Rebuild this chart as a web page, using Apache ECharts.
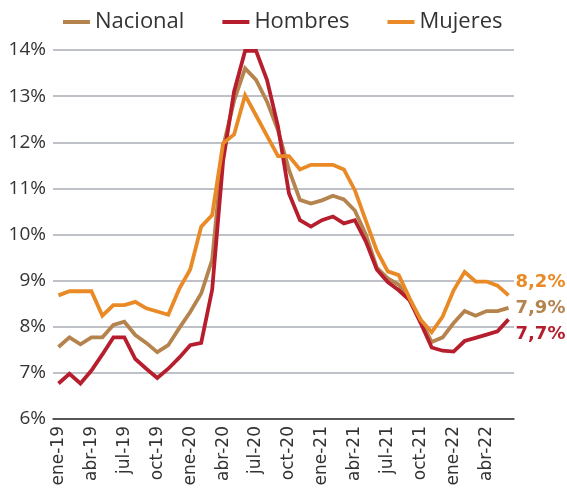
<!DOCTYPE html>
<html>
<head>
<meta charset="utf-8">
<script src="https://cdn.jsdelivr.net/npm/echarts@6/dist/echarts.min.js"></script>
<style>html,body{margin:0;padding:0;background:#fff}#c{width:567px;height:500px}</style>
</head>
<body>
<div id="c"></div>
<script>
var categories = [
  'ene-19','feb-19','mar-19','abr-19','may-19','jun-19','jul-19','ago-19','sep-19','oct-19','nov-19','dic-19',
  'ene-20','feb-20','mar-20','abr-20','may-20','jun-20','jul-20','ago-20','sep-20','oct-20','nov-20','dic-20',
  'ene-21','feb-21','mar-21','abr-21','may-21','jun-21','jul-21','ago-21','sep-21','oct-21','nov-21','dic-21',
  'ene-22','feb-22','mar-22','abr-22','may-22','jun-22'
];
var nacional = [7.56,7.77,7.62,7.77,7.77,8.04,8.11,7.82,7.65,7.45,7.60,7.97,
  8.32,8.72,9.45,11.9,12.9,13.6,13.35,12.88,12.26,11.4,10.75,10.67,
  10.74,10.84,10.76,10.52,10.0,9.28,9.05,8.91,8.57,8.15,7.67,7.77,
  8.08,8.34,8.24,8.34,8.34,8.41];
var hombres = [6.77,6.98,6.77,7.05,7.40,7.77,7.77,7.30,7.09,6.89,7.09,7.33,
  7.60,7.65,8.8,11.6,13.1,13.98,13.98,13.35,12.34,10.89,10.31,10.17,
  10.31,10.39,10.24,10.31,9.85,9.24,8.97,8.79,8.57,8.08,7.55,7.48,
  7.46,7.69,7.76,7.83,7.90,8.16];
var mujeres = [8.68,8.77,8.77,8.77,8.24,8.47,8.47,8.54,8.40,8.33,8.26,8.82,
  9.24,10.17,10.42,11.98,12.17,13.02,12.58,12.14,11.70,11.70,11.41,11.51,
  11.51,11.51,11.41,10.96,10.3,9.65,9.2,9.12,8.61,8.15,7.88,8.22,
  8.79,9.19,8.98,8.98,8.89,8.68];
var seriesNames = ['Nacional','Hombres','Mujeres'];
var endLabels = ['7,9%','7,7%','8,2%'];
var colors = ['#B5834D','#B71E2D','#E98A26'];
var yTicks = {min: 6, max: 14, interval: 1};

var FONT = 'Open Sans';
var chart = echarts.init(document.getElementById('c'), null, {renderer: 'canvas'});
var dataSets = [nacional, hombres, mujeres];
var offsets = [[0, 0], [0, 15], [0, -13]];
var series = dataSets.map(function (d, k) {
  return {
    name: seriesNames[k],
    type: 'line',
    data: d,
    symbol: 'none',
    smooth: false,
    z: 2 + k,
    lineStyle: {width: 3.8, color: colors[k], join: 'miter'},
    itemStyle: {color: colors[k]},
    endLabel: {
      show: true,
      formatter: endLabels[k],
      color: colors[k],
      fontFamily: 'DejaVu Sans',
      fontWeight: 'bold',
      fontSize: 18,
      distance: 7,
      offset: offsets[k]
    }
  };
});
chart.setOption({
  animation: false,
  color: colors,
  legend: {
    data: seriesNames,
    left: 58,
    top: 6,
    icon: 'rect',
    itemWidth: 27,
    itemHeight: 4,
    itemGap: 38,
    textStyle: {fontFamily: FONT, fontSize: 22, color: '#333'}
  },
  grid: {left: 53, right: 53, top: 50, bottom: 81, containLabel: false},
  xAxis: {
    type: 'category',
    data: categories,
    boundaryGap: true,
    axisLine: {lineStyle: {color: '#333', width: 1.5}},
    axisTick: {show: false},
    axisLabel: {
      interval: 2,
      rotate: 90,
      margin: 7,
      fontFamily: 'DejaVu Sans',
      fontSize: 17,
      color: '#333'
    },
    splitLine: {show: false}
  },
  yAxis: {
    type: 'value',
    min: yTicks.min,
    max: yTicks.max,
    interval: yTicks.interval,
    axisLine: {show: false},
    axisTick: {show: false},
    axisLabel: {
      formatter: '{value}%',
      margin: 7,
      fontFamily: FONT,
      fontSize: 19,
      color: '#333'
    },
    splitLine: {lineStyle: {color: '#A8ADB5', width: 1.5}}
  },
  series: series
});
</script>
</body>
</html>
